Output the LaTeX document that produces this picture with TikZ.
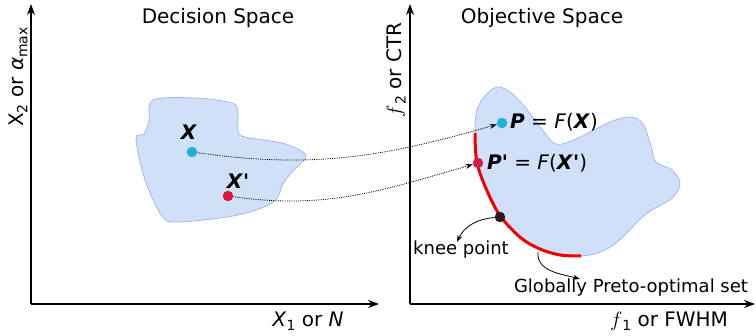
\documentclass[tikz,border=0pt]{standalone}
\usepackage{fontspec}
\setmainfont{DejaVu Sans}
\usetikzlibrary{arrows.meta}
\definecolor{blobfill}{RGB}{207,224,248}
\definecolor{blobline}{RGB}{160,178,240}
\definecolor{ptcyan}{RGB}{30,178,214}
\definecolor{ptred}{RGB}{218,22,60}
\definecolor{ptpink}{RGB}{212,28,78}
\definecolor{kneecol}{RGB}{45,25,30}
\definecolor{frontcol}{RGB}{240,0,0}
\tikzset{
  axis/.style={line width=1.1pt,-{Stealth[length=11pt,width=8pt]}},
  region/.style={fill=blobfill,draw=blobline,line width=0.7pt},
  frontline/.style={draw=frontcol,line width=3pt},
  ptdot/.style={circle,inner sep=0pt,minimum size=10.5pt},
  mapline/.style={densely dotted,line width=0.8pt,-{Stealth[length=7pt,width=5pt]}},
  noteline/.style={line width=0.8pt,-{Stealth[length=7pt,width=5pt]}},
  ttl/.style={font=\fontsize{20}{24}\selectfont},
  axlab/.style={font=\fontsize{20}{24}\selectfont},
  smalllab/.style={font=\fontsize{18}{21}\selectfont},
  ptlab/.style={font=\fontsize{20}{24}\selectfont,inner sep=0pt},
}
\newcommand{\bx}[1]{\textbf{\textit{#1}}}
\newcommand{\bprime}{\textbf{\textquotesingle}}
\newcommand{\lowsub}[1]{\raisebox{-0.4ex}{\fontsize{14}{14}\selectfont #1}}

\begin{document}
\begin{tikzpicture}[x=1pt,y=-1pt]
  \useasboundingbox (0,0) rectangle (756,336);
  % axes
  \coordinate (o1) at (31,304);
  \coordinate (o2) at (410,304);
  \draw[axis] (o1) -- (31,4);
  \draw[axis] (o1) -- (379,304);
  \draw[axis] (o2) -- (410,4);
  \draw[axis] (o2) -- (755,304);
  \node[ttl] (dtitle) at (218,18) {Decision Space};
  \node[ttl] (otitle) at (542,18) {Objective Space};
  \node[axlab] (x1lab) at (308,321) {\textit{X}\lowsub{1} or \textit{N}};
  \node[axlab] (f1lab) at (669,321) {$f$\lowsub{1} or FWHM};
  \node[axlab,rotate=90] (x2lab) at (18,77) {X\lowsub{2} or \textit{α}\lowsub{max}};
  \node[axlab,rotate=90] (f2lab) at (396,70) {$f$\lowsub{2} or CTR};
  % decision region
  \draw[region] plot[smooth cycle,tension=0.55] coordinates {
    (153,100) (195,98) (232,103) (238,113) (238,131) (245,137) (282,143)
    (303,152) (305,159) (292,172) (283,184) (277,198) (264,207) (233,216)
    (178,222) (162,216) (145,180) (136,139) (144,134) (149,121)};
  % objective region
  \draw[region] plot[smooth cycle,tension=0.55] coordinates {
    (497,87) (510,92) (524,106) (541,128) (556,144) (576,139) (610,122)
    (631,117) (643,124) (651,146) (656,162) (672,170) (680,184) (671,199)
    (646,214) (612,246) (581,256) (540,249) (521,238) (501,217) (488,193)
    (477,163) (475,133) (477,110) (485,96)};
  \draw[frontline] plot[smooth,tension=0.55] coordinates {
    (475,133) (477,163) (488,193) (501,217) (521,238) (540,249) (560,255) (581,256)};
  % points
  \node[ptdot,fill=ptcyan] (x) at (192,152) {};
  \node[ptdot,fill=ptred] (xp) at (228,196) {};
  \node[ptdot,fill=ptcyan] (p) at (502,123) {};
  \node[ptdot,fill=ptpink] (pp) at (478,163) {};
  \node[ptdot,fill=kneecol] (knee) at (500,217) {};
  \node[ptlab] (xlab) at (189,132) {\bx{X}};
  \node[ptlab] (xplab) at (238,181) {\bx{X}\bprime};
  \node[ptlab,anchor=west] (plab) at (510,122) {\bx{P} = \textit{F}(\bx{X})};
  \node[ptlab,anchor=west] (pplab) at (487,163) {\bx{P}\bprime{} = \textit{F}(\bx{X}\bprime)};
  \node[smalllab] (kneelab) at (461,250) {knee point};
  \node[smalllab] (setlab) at (631,288) {Globally Preto-optimal set};
  % mappings
  \draw[mapline] (x) to[out=-8,in=196] (p);
  \draw[mapline] (xp) to[out=-8,in=196] (pp);
  \coordinate (kneetip) at (457,242);
  \coordinate (setfoot) at (538,252);
  \coordinate (settip) at (580,279);
  \draw[noteline] (knee) to[out=185,in=65] (kneetip);
  \draw[noteline] (setfoot) to[out=-95,in=165] (settip);
\end{tikzpicture}
\end{document}
